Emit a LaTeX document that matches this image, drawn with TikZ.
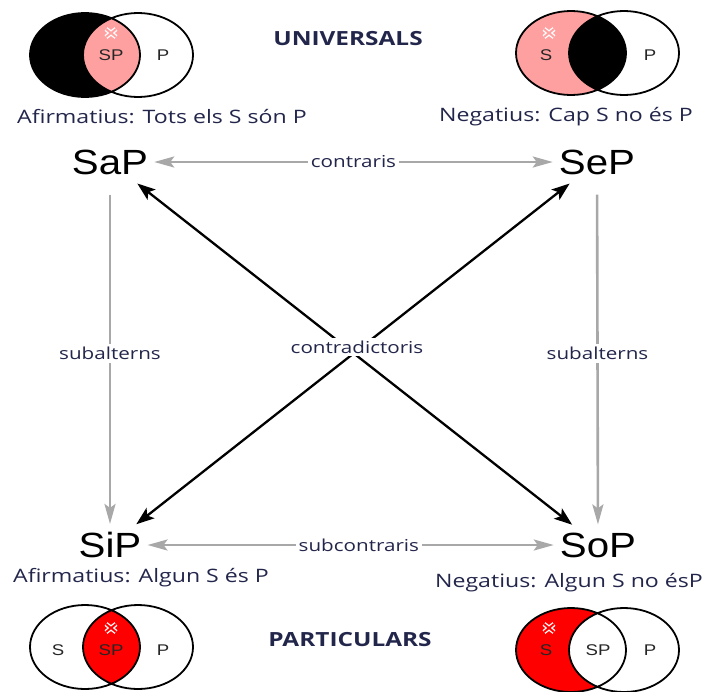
\documentclass[tikz,border=0pt]{standalone}
\usepackage{fontspec}
\setmainfont{Liberation Sans}
\newfontfamily\termfont[FakeStretch=1.15]{Liberation Sans}
\newfontfamily\vennfont[FakeStretch=1.2]{Liberation Sans}
\newfontfamily\lblfont[FakeStretch=1.25]{Open Sans}
\usetikzlibrary{arrows.meta}

\definecolor{mpink}{RGB}{255, 160, 160}
\definecolor{mred}{RGB}{255, 0, 0}
\definecolor{mgray}{RGB}{168, 168, 168}
\definecolor{mtxt}{RGB}{35, 38, 75}

\begin{document}
\begin{tikzpicture}[x=1pt, y=-1pt,
		term/.style={font=\termfont\fontsize{35}{35}\selectfont, inner sep=4pt},
		vlbl/.style={font=\vennfont\fontsize{15.5}{15.5}\selectfont, text=black!85},
		captxt/.style={font=\lblfont\fontsize{18.5}{18.5}\selectfont, text=mtxt},
		head/.style={font=\lblfont\bfseries\fontsize{19.5}{19.5}\selectfont, text=mtxt},
		lbl/.style={font=\lblfont\fontsize{16.5}{16.5}\selectfont, text=mtxt, fill=white, inner sep=3pt},
		grayarr/.style={draw=mgray, line width=2.6pt},
		blackarr/.style={draw=black, line width=2.3pt},
		gtip/.tip={Stealth[length=20pt, width=11pt, inset=4pt]},
		btip/.tip={Stealth[length=18pt, width=13pt, inset=4pt]}]
	\useasboundingbox (0,0) rectangle (704,691);

	% --- Venn diagrams: S-only part / common part ---
	\foreach \cx/\cy/\cs/\cb in {85/55/black/mpink, 571/53/mpink/black, 85/647/white/mred, 571/650/mred/white} {
			\fill[\cs] (\cx,\cy) ellipse [x radius=55, y radius=42];
			\begin{scope}
				\clip (\cx,\cy) ellipse [x radius=55, y radius=42];
				\fill[\cb] (\cx+53,\cy) ellipse [x radius=55, y radius=42];
			\end{scope}
			\draw[line width=1.8pt] (\cx,\cy) ellipse [x radius=55, y radius=42]
				(\cx+53,\cy) ellipse [x radius=55, y radius=42];
		}

	% the small marks
	\foreach \cx/\cy/\cb in {111/33/mpink, 549/33/mpink, 111/628/mred, 549/628/mred} {
			\draw[white, line width=4.6pt] (\cx-5,\cy-4) -- (\cx+5,\cy+4) (\cx-5,\cy+4) -- (\cx+5,\cy-4);
			\draw[\cb, line width=2pt] (\cx-5,\cy-4) -- (\cx+5,\cy+4) (\cx-5,\cy+4) -- (\cx+5,\cy-4);
		}

	\node[vlbl] (aSP) at (111,55) {SP};
	\node[vlbl] (aP) at (163,55) {P};
	\node[vlbl] (eS) at (546,55) {S};
	\node[vlbl] (eP) at (650,55) {P};
	\node[vlbl] (iS) at (58,650) {S};
	\node[vlbl] (iSP) at (111,650) {SP};
	\node[vlbl] (iP) at (163,650) {P};
	\node[vlbl] (oS) at (546,650) {S};
	\node[vlbl] (oSP) at (598,650) {SP};
	\node[vlbl] (oP) at (650,650) {P};

	% --- Headings and captions ---
	\node[head] (univ) at (348,39) {UNIVERSALS};
	\node[head] (part) at (350,640) {PARTICULARS};
	\node[captxt] (capA) at (162,117) {Afirmatius: Tots els S són P};
	\node[captxt] (capE) at (566,117) {Negatius: Cap S no és P};
	\node[captxt] (capI) at (141,578) {Afirmatius: Algun S és P};
	\node[captxt] (capO) at (569,583) {Negatius: Algun S no ésP};

	% --- The square ---
	\node[term] (SaP) at (110,162) {SaP};
	\node[term] (SeP) at (597,162) {SeP};
	\node[term] (SiP) at (110,545) {SiP};
	\node[term] (SoP) at (598,545) {SoP};

	\draw[grayarr, gtip-gtip, shorten <=2pt, shorten >=2pt] (SaP) -- (SeP) node[lbl, midway] (contr) {contraris};
	\draw[grayarr, -gtip, shorten <=16pt, shorten >=4pt] (SaP) -- (SiP) node[lbl, midway] (subA) {subalterns};
	\draw[grayarr, -gtip, shorten <=16pt, shorten >=4pt] (SeP) -- (SoP) node[lbl, midway] (subE) {subalterns};
	\draw[grayarr, gtip-gtip, shorten <=2pt, shorten >=2pt] (SiP) -- (SoP) node[lbl, pos=0.52] (subc) {subcontraris};

	\draw[blackarr, btip-btip, shorten <=8pt, shorten >=6pt] (SaP) -- (SoP);
	\draw[blackarr, btip-btip, shorten <=6pt, shorten >=8pt] (SiP) -- (SeP);
	\node[lbl] (contrad) at (357,347) {contradictoris};

\end{tikzpicture}
\end{document}
